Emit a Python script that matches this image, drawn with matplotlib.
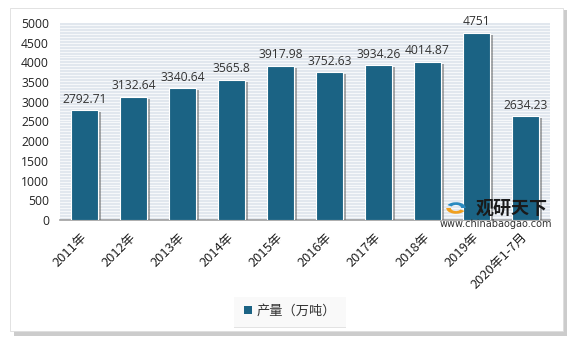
import matplotlib
matplotlib.use("Agg")
import matplotlib.pyplot as plt
import matplotlib.patheffects as pe
from matplotlib.patches import Rectangle, Wedge
import numpy as np

plt.rcParams['font.family'] = ['Noto Sans CJK SC', 'DejaVu Sans']

categories = ["2011年", "2012年", "2013年", "2014年", "2015年", "2016年",
              "2017年", "2018年", "2019年", "2020年1-7月"]
values = [2792.71, 3132.64, 3340.64, 3565.8, 3917.98, 3752.63,
          3934.26, 4014.87, 4751, 2634.23]
value_labels = ["2792.71", "3132.64", "3340.64", "3565.8", "3917.98", "3752.63",
                "3934.26", "4014.87", "4751", "2634.23"]
yticks = [0, 500, 1000, 1500, 2000, 2500, 3000, 3500, 4000, 4500, 5000]
series_name = "产量（万吨）"

bar_color = "#1b6384"
W, H = 572, 340

fig = plt.figure(figsize=(W/100, H/100), dpi=100)
fig.patch.set_facecolor("white")

# outer frame with shadow
fig.patches.append(Rectangle((14/W, 1-336/H), 553/W, 326/H, transform=fig.transFigure,
                             facecolor="#cccccc", edgecolor="none", zorder=0))
fig.patches.append(Rectangle((10/W, 1-331/H), 553/W, 323/H, transform=fig.transFigure,
                             facecolor="white", edgecolor="#dddddd", lw=0.6, zorder=0.5))

ax = fig.add_axes([60/W, 1-220/H, 490/W, 197/H])
ax.set_facecolor("#e1e7ee")
ax.set_zorder(1)
x = np.arange(len(categories))
ax.set_xlim(-0.5, len(categories) - 0.5)
ax.set_ylim(0, 5000)

# striped background
for yy in np.arange(0, 5000, 75):
    ax.axhline(yy, color="white", lw=0.6, alpha=0.85, zorder=0)

bars = ax.bar(x, values, width=0.55, color=bar_color, edgecolor="white", linewidth=0.8,
              zorder=3)
for b in bars:
    b.set_path_effects([pe.SimplePatchShadow(offset=(2, -1.5), shadow_rgbFace="#666666", alpha=0.55),
                        pe.Normal()])

for xi, v, lab in zip(x, values, value_labels):
    ax.text(xi, v + 110, lab, ha="center", va="bottom", fontsize=8.7, color="#333333",
            family=["Open Sans"], zorder=4)

ax.set_yticks(yticks)
ax.set_yticklabels([str(t) for t in yticks], fontsize=8.7, color="#222222", family=["Open Sans"])
ax.set_xticks(x)
ax.set_xticklabels(categories, rotation=45, ha="right", va="center", rotation_mode="anchor",
                   fontsize=9.3, color="#222222")
ax.tick_params(axis="y", length=0, pad=8)
ax.tick_params(axis="x", length=0, pad=11)
for s in ["top", "right", "left"]:
    ax.spines[s].set_visible(False)
ax.spines["bottom"].set_color("#a0a0a0")
ax.spines["bottom"].set_linewidth(1.2)

# legend
leg = fig.legend([Rectangle((0, 0), 1, 1, facecolor=bar_color)], [series_name],
                 loc="center", bbox_to_anchor=(290/W, 1-311/H), frameon=True,
                 fontsize=9.5, handlelength=0.6, handleheight=0.6, handletextpad=0.4,
                 borderpad=0.7, fancybox=False)
leg.get_frame().set_edgecolor("none")
leg.get_frame().set_facecolor("white")
leg.get_frame().set_path_effects([pe.SimplePatchShadow(offset=(0, -1), shadow_rgbFace="#bbbbbb", alpha=0.4),
                                  pe.Normal()])
for t in leg.get_texts():
    t.set_color("#333333")

# watermark
fig.patches.append(Wedge((456/W, 1-208/H), 0.017, 180, 330, width=0.008, transform=fig.transFigure,
                         facecolor="#f0a020", edgecolor="none", zorder=5))
fig.patches.append(Wedge((456/W, 1-208/H), 0.017, 0, 150, width=0.008, transform=fig.transFigure,
                         facecolor="#2a8ac0", edgecolor="none", zorder=5))
fig.text(512/W, 1-208/H, "观研天下", fontsize=13, fontweight="bold", color="#1a1a1a",
         ha="center", va="center", zorder=5)
fig.text(496/W, 1-224/H, "www.chinabaogao.com", fontsize=7, color="#333333",
         ha="center", va="center", family=["DejaVu Sans"], zorder=5)

fig.savefig("out.png", dpi=100, facecolor=fig.get_facecolor())
